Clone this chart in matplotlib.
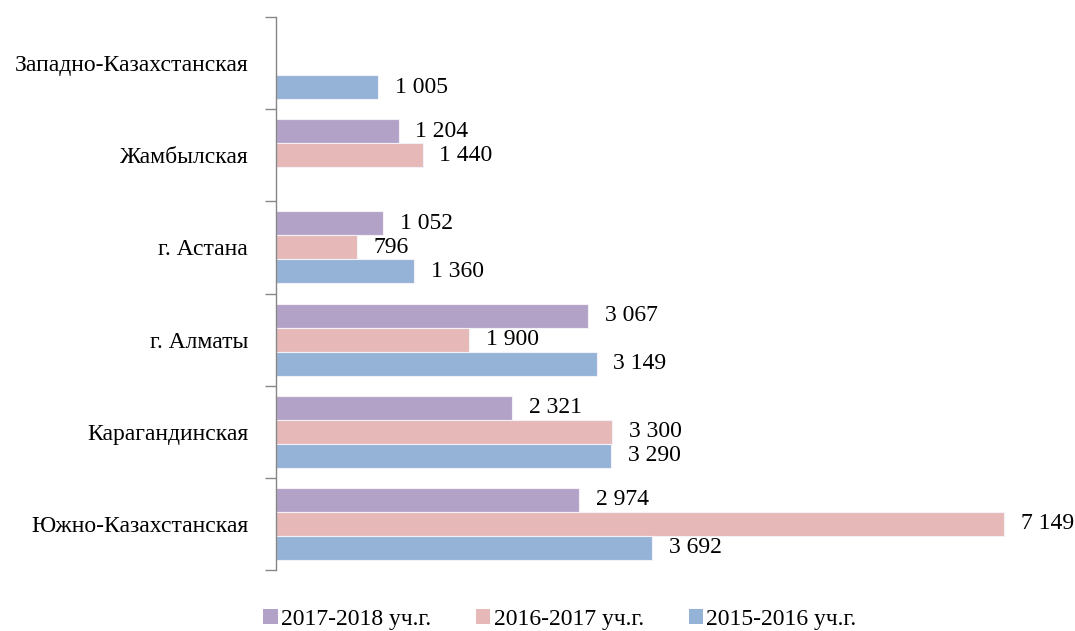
import matplotlib
matplotlib.use("Agg")
import matplotlib.pyplot as plt
import numpy as np
from matplotlib.patches import Patch

categories = ["Южно-Казахстанская", "Карагандинская", "г. Алматы", "г. Астана",
              "Жамбылская", "Западно-Казахстанская"]
series_names = ["2017-2018 уч.г.", "2016-2017 уч.г.", "2015-2016 уч.г."]
v_2017_2018 = [2974, 2321, 3067, 1052, 1204, None]
v_2016_2017 = [7149, 3300, 1900, 796, 1440, None]
v_2015_2016 = [3692, 3290, 3149, 1360, None, 1005]
colors = ["#B3A2C7", "#E6B9B8", "#95B3D7"]

plt.rcParams['font.family'] = ['Liberation Serif', 'DejaVu Serif']

W, H = 1075, 631
fig = plt.figure(figsize=(W / 100, H / 100), dpi=100)
ax = fig.add_axes([276 / W, (H - 570) / H, (1060 - 276) / W, (570 - 17) / H])

bar_h = 0.26
offsets = [bar_h, 0.0, -bar_h]
y = np.arange(len(categories))
fs = 17

for vals, off, col in zip([v_2017_2018, v_2016_2017, v_2015_2016], offsets, colors):
    for i, v in enumerate(vals):
        if v is None:
            continue
        ax.barh(y[i] + off, v, height=bar_h, color=col, edgecolor="#f4f0f8", linewidth=0.8)
        ax.text(v + 165, y[i] + off, f"{v:,}".replace(",", " "), va="center", ha="left",
                fontsize=fs, color="black")

ax.set_xlim(0, 784 / (728 / 7149))
ax.set_ylim(-0.5, len(categories) - 0.5)

for s in ["top", "right", "bottom"]:
    ax.spines[s].set_visible(False)
ax.spines["left"].set_color("#868686")
ax.spines["left"].set_linewidth(1.0)
ax.set_xticks([])
ax.set_yticks(y)
ax.set_yticklabels(categories, fontsize=fs)
ax.tick_params(axis="y", which="major", length=0, pad=20)
ax.set_yticks(np.arange(-0.5, len(categories), 1.0), minor=True)
ax.tick_params(axis="y", which="minor", length=8, width=1.0, color="#868686")

handles = [Patch(facecolor=c, edgecolor="none") for c in colors]
fig.legend(handles, series_names, loc="center", bbox_to_anchor=(560 / W, 1 - 619 / H),
           ncol=3, frameon=False, fontsize=fs, handlelength=0.6, handleheight=0.6,
           handletextpad=0.15, columnspacing=1.9)

fig.savefig("out.png", dpi=100)
